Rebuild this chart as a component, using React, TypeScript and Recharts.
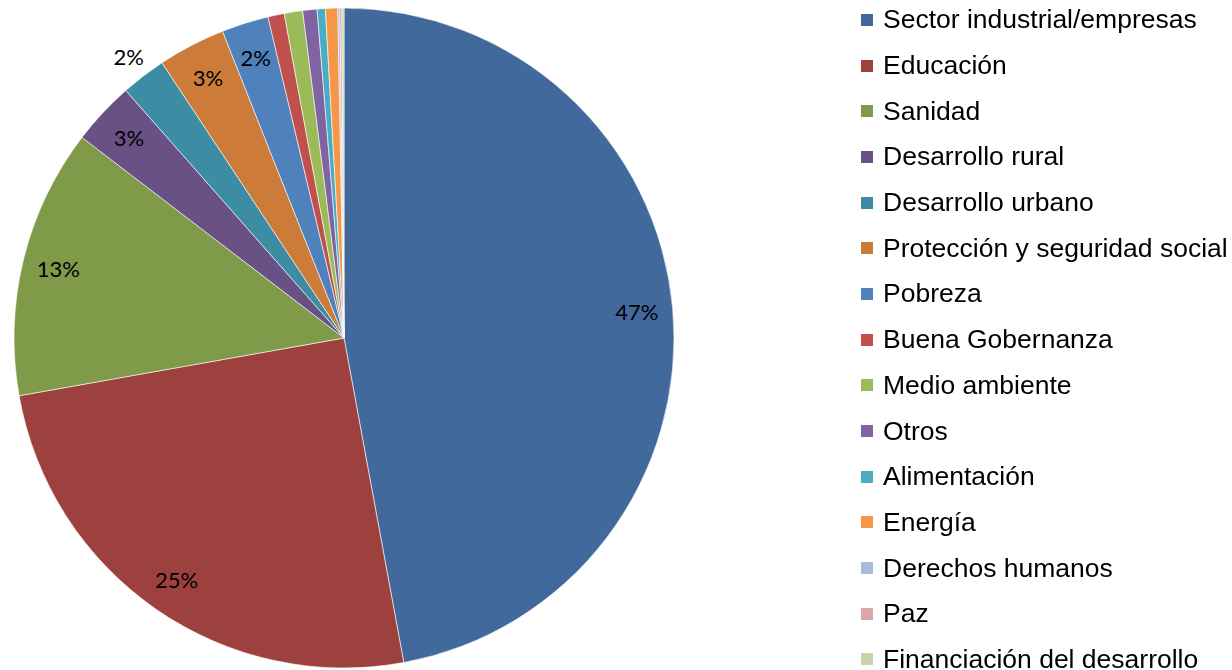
import React from 'react';
import { PieChart, Pie, Cell, Legend } from 'recharts';

const sectors = [
  'Sector industrial/empresas',
  'Educación',
  'Sanidad',
  'Desarrollo rural',
  'Desarrollo urbano',
  'Protección y seguridad social',
  'Pobreza',
  'Buena Gobernanza',
  'Medio ambiente',
  'Otros',
  'Alimentación',
  'Energía',
  'Derechos humanos',
  'Paz',
  'Financiación del desarrollo',
];

const shares = [47.1, 25.1, 13.2, 3.1, 2.2, 3.3, 2.3, 0.8, 0.9, 0.7, 0.4, 0.6, 0.1, 0.1, 0.1];

const colors = [
  '#41699c', '#9d413e', '#7f9a48', '#695185', '#3c8da3', '#cc7b38', '#4f81bd',
  '#c0504d', '#9bbb59', '#8064a2', '#4bacc6', '#f79646', '#a9b9d9', '#d9a7a7', '#c6d6ac',
];

const data = sectors.map((name, i) => ({ name, value: shares[i] }));

const RAD = Math.PI / 180;

const renderLabel = (props: any) => {
  const { cx, cy, midAngle, outerRadius, percent } = props;
  if (percent < 0.015) return null;
  // small slices that do not fit get their label outside the pie
  const r = percent < 0.0225 ? outerRadius + 24 : outerRadius - 36;
  const x = cx + r * Math.cos(-midAngle * RAD);
  const y = cy + r * Math.sin(-midAngle * RAD);
  return (
    <text
      x={x}
      y={y}
      fill="#000"
      textAnchor="middle"
      dominantBaseline="central"
      style={{ fontFamily: 'Lato, "Open Sans", sans-serif', fontSize: 22 }}
    >
      {`${Math.round(percent * 100)}%`}
    </text>
  );
};

// legend keeps the series order (the default payload gets sorted by name)
const renderLegend = () => (
  <div style={{ fontFamily: '"Liberation Sans", Arial, sans-serif', fontSize: 26.5, color: '#000' }}>
    {sectors.map((name, i) => (
      <div key={name} style={{ height: 45.7, display: 'flex', alignItems: 'center', whiteSpace: 'nowrap' }}>
        <span style={{ width: 12, height: 12, background: colors[i], display: 'inline-block', marginRight: 10 }} />
        <span>{name}</span>
      </div>
    ))}
  </div>
);

export default function App() {
  return (
    <div style={{ position: 'fixed', left: 0, top: 0, width: 1232, height: 670, background: '#fff' }}>
      <PieChart width={1232} height={670} margin={{ top: 0, right: 0, bottom: 0, left: 0 }}>
        <Pie
          data={data}
          dataKey="value"
          nameKey="name"
          cx={344}
          cy={338}
          outerRadius={330}
          startAngle={90}
          endAngle={-270}
          stroke="#ffffff"
          strokeWidth={0.6}
          label={renderLabel}
          labelLine={false}
          isAnimationActive={false}
        >
          {data.map((d, i) => (
            <Cell key={d.name} fill={colors[i]} />
          ))}
        </Pie>
        <Legend
          layout="vertical"
          align="right"
          verticalAlign="top"
          content={renderLegend}
          wrapperStyle={{ left: 861, top: -3, width: 371 }}
        />
      </PieChart>
    </div>
  );
}
